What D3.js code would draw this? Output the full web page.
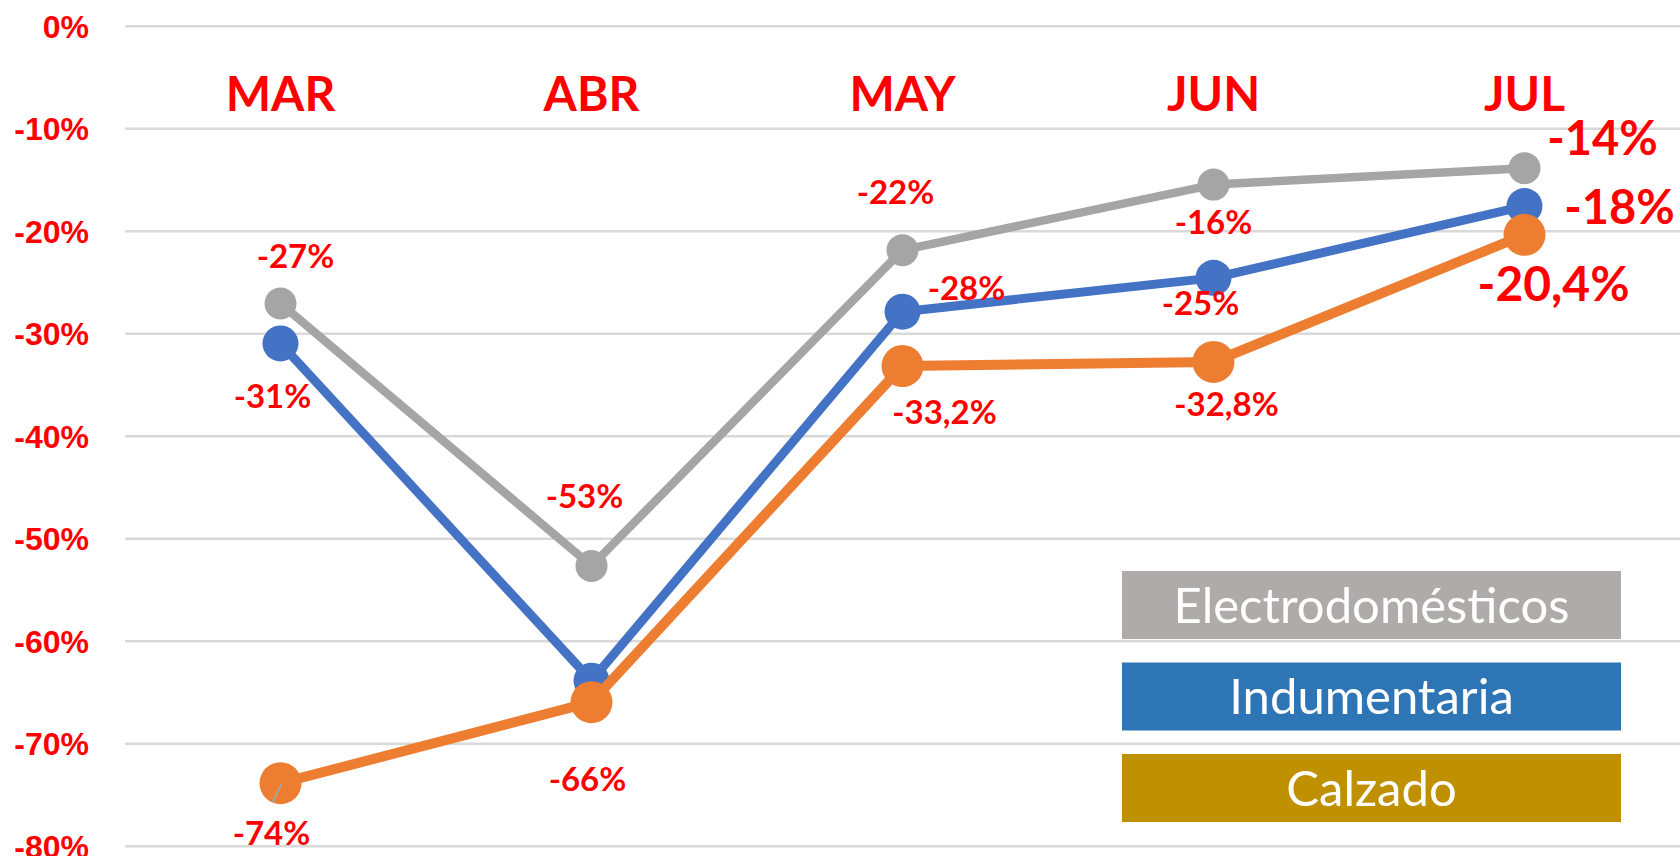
<!DOCTYPE html>
<html>
<head>
  <script src="https://d3js.org/d3.v7.min.js"></script>
  <style>
    html, body {
      margin: 0px;
      padding: 0px;
      background: #ffffff;
      font-family: Lato, "Noto Sans", Arial, sans-serif;
    }
    #chart {
      width: 1680px;
      height: 856px;
      position: relative;
    }
    .tick text {
      font-size: 32px;
      font-weight: bold;
      fill: #ff0000;
    }
    .tick line {
      stroke: #d9d9d9;
      stroke-width: 2.5px;
    }
    .catLabel {
      font-size: 48px;
      font-weight: bold;
      fill: #ff0000;
    }
    .dataLabel {
      font-weight: bold;
      fill: #ff0000;
    }
    .legendText {
      font-size: 49px;
      fill: #ffffff;
    }
  </style>
</head>
<body>
  <div id="chart"></div>
  <script>

    // canvas
    const width = 1680;
    const height = 856;
    const margin = {top: 25.7, left: 125, right: 0, bottom: 10.3};

    const svg = d3.select("#chart")
      .append("svg")
      .attr("width", width)
      .attr("height", height);

    // data
    const months = ["MAR", "ABR", "MAY", "JUN", "JUL"];
    const yTicks = [0, -10, -20, -30, -40, -50, -60, -70, -80];

    const seriesNames = ["Electrodomésticos", "Indumentaria", "Calzado"];

    const electroValues = [-27.1, -52.7, -21.9, -15.5, -13.9];
    const indumValues = [-31, -63.9, -27.9, -24.6, -17.6];
    const calzadoValues = [-73.9, -66, -33.2, -32.8, -20.4];

    const electroLabels = ["-27%", "-53%", "-22%", "-16%", "-14%"];
    const indumLabels = ["-31%", null, "-28%", "-25%", "-18%"];
    const calzadoLabels = ["-74%", "-66%", "-33,2%", "-32,8%", "-20,4%"];

    // styling per series (kept out of the data arrays)
    const lineColors = ["#a5a5a5", "#4472c4", "#ed7d31"];
    const legendColors = ["#afabab", "#2e75b6", "#bf9000"];
    const markerRadius = [16, 18, 21];
    const lineWidths = [8.5, 9, 10];

    // label offsets [dx, dy, fontSize] per point
    const electroLabelPos = [[15, -47, 33], [-7, -70, 33], [-7, -58, 33], [0, 38, 33], [78, -30, 47]];
    const indumLabelPos = [[-8, 53, 33], null, [64, -24, 33], [-13, 25, 33], [95, 1, 47]];
    const calzadoLabelPos = [[-9, 50, 33], [-4, 77, 33], [42, 46, 33], [13, 42, 33], [29, 49, 48]];

    const series = [
      {name: seriesNames[0], values: electroValues, labels: electroLabels, pos: electroLabelPos},
      {name: seriesNames[1], values: indumValues, labels: indumLabels, pos: indumLabelPos},
      {name: seriesNames[2], values: calzadoValues, labels: calzadoLabels, pos: calzadoLabelPos}
    ];

    // scales
    const xScale = d3.scalePoint()
      .domain(months)
      .range([margin.left, width - margin.right])
      .padding(0.5);

    const yScale = d3.scaleLinear()
      .domain([-80, 0])
      .range([height - margin.bottom, margin.top]);

    // gridlines + y axis
    const yAxis = svg.append("g")
      .attr("transform", `translate(${margin.left},0)`)
      .call(d3.axisLeft(yScale)
        .tickValues(yTicks)
        .tickSize(-(width - margin.left))
        .tickPadding(36)
        .tickFormat(d => d + "%"));
    yAxis.select(".domain").remove();
    yAxis.selectAll(".tick text").attr("dy", "0.36em");

    // month labels at the top
    svg.selectAll(".catLabel")
      .data(months)
      .join("text")
      .attr("class", "catLabel")
      .attr("x", d => xScale(d))
      .attr("y", 94)
      .attr("dy", "0.36em")
      .attr("text-anchor", "middle")
      .text(d => d);

    // legend-like boxes
    const legendY = [571, 662.5, 754];
    const legend = svg.selectAll(".legendBox")
      .data(seriesNames)
      .join("g")
      .attr("class", "legendBox")
      .attr("transform", (d, i) => `translate(1122,${legendY[i]})`);
    legend.append("rect")
      .attr("width", 499)
      .attr("height", 68)
      .attr("fill", (d, i) => legendColors[i]);
    legend.append("text")
      .attr("class", "legendText")
      .attr("x", 249.5)
      .attr("y", 34)
      .attr("dy", "0.36em")
      .attr("text-anchor", "middle")
      .text(d => d);

    // lines and markers
    const line = d3.line()
      .x((d, i) => xScale(months[i]))
      .y(d => yScale(d));

    series.forEach(function(s, si) {
      svg.append("path")
        .datum(s.values)
        .attr("d", line)
        .attr("fill", "none")
        .attr("stroke", lineColors[si])
        .attr("stroke-width", lineWidths[si])
        .attr("stroke-linejoin", "round");

      svg.selectAll(".marker" + si)
        .data(s.values)
        .join("circle")
        .attr("class", "marker" + si)
        .attr("cx", (d, i) => xScale(months[i]))
        .attr("cy", d => yScale(d))
        .attr("r", markerRadius[si])
        .attr("fill", lineColors[si]);
    });

    // small leader line for the -74% label
    svg.append("line")
      .attr("x1", xScale("MAR") - 8)
      .attr("y1", yScale(calzadoValues[0]) + 19)
      .attr("x2", xScale("MAR") + 1)
      .attr("y2", yScale(calzadoValues[0]) + 1)
      .attr("stroke", "#a5a5a5")
      .attr("stroke-width", 2);

    // data labels
    series.forEach(function(s) {
      s.values.forEach(function(v, i) {
        if (!s.labels[i]) return;
        const p = s.pos[i];
        svg.append("text")
          .attr("class", "dataLabel")
          .attr("x", xScale(months[i]) + p[0])
          .attr("y", yScale(v) + p[1])
          .attr("dy", "0.36em")
          .attr("text-anchor", "middle")
          .style("font-size", p[2] + "px")
          .text(s.labels[i]);
      });
    });

  </script>
</body>
</html>
